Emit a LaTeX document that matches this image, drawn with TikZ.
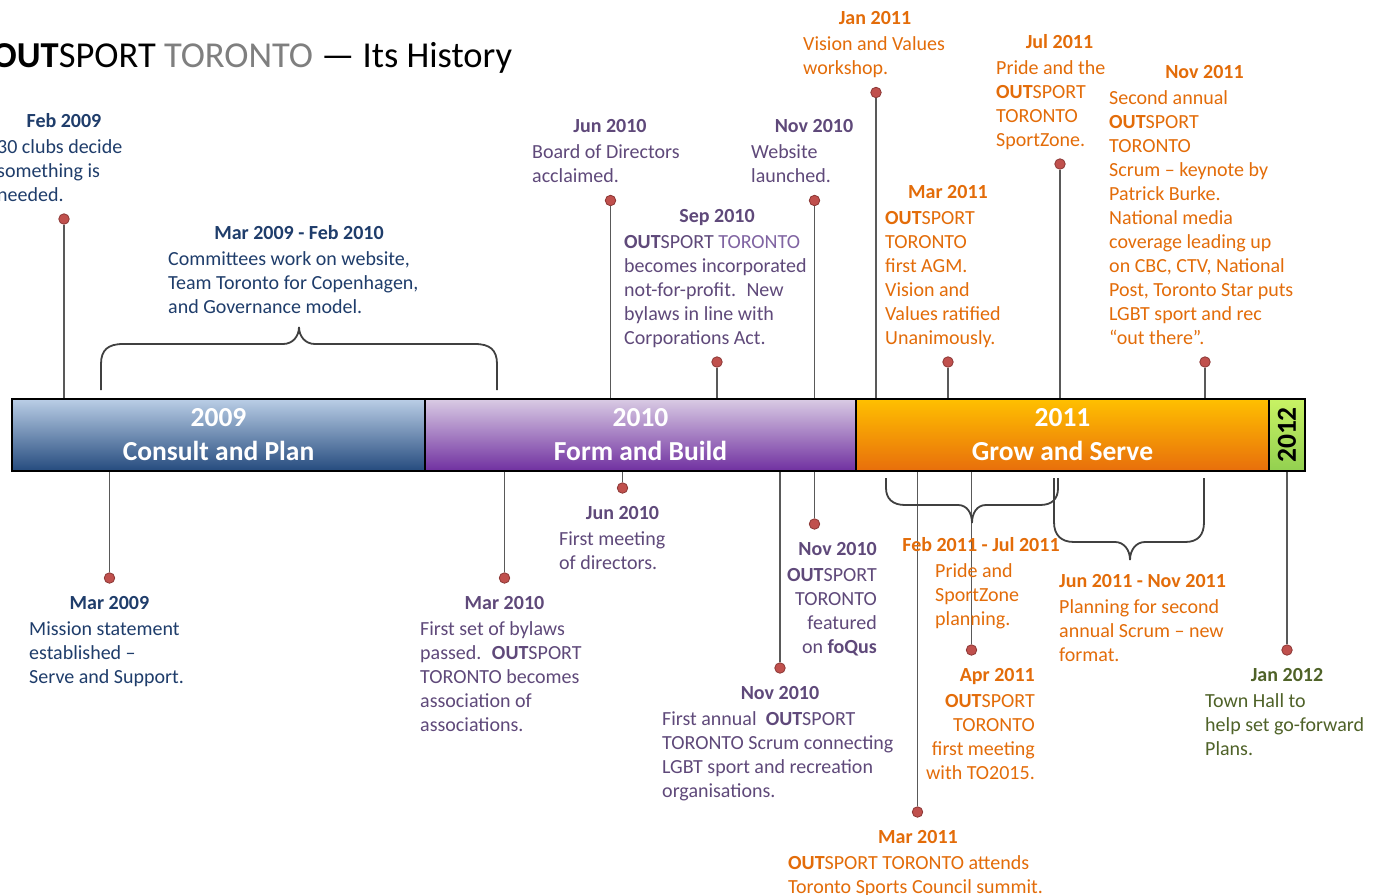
\documentclass[tikz,border=0pt]{standalone}
\usepackage{fontspec}
\setmainfont{Carlito}

\definecolor{c09}{HTML}{1F3D6B}
\definecolor{c10}{HTML}{5F497A}
\definecolor{c10lt}{HTML}{8064A2}
\definecolor{c11}{HTML}{E36C09}
\definecolor{c12}{HTML}{4F6228}
\definecolor{headgray}{HTML}{7F7F7F}
\definecolor{bar09a}{HTML}{BACEE6}
\definecolor{bar09b}{HTML}{254B7E}
\definecolor{bar10a}{HTML}{D9CBE4}
\definecolor{bar10b}{HTML}{7030A0}
\definecolor{bar11a}{HTML}{FFC000}
\definecolor{bar11b}{HTML}{E86E0C}
\definecolor{bar12a}{HTML}{C8F264}
\definecolor{bar12b}{HTML}{92D050}
\definecolor{stemgray}{HTML}{595959}
\definecolor{dotred}{HTML}{C0504D}
\definecolor{dotedge}{HTML}{8C3836}
\definecolor{bracegray}{HTML}{404040}

\newcommand{\OS}{\textbf{OUT}SPORT}

\begin{document}
\begin{tikzpicture}[x=1pt, y=-1pt,
    yearbar/.style={draw=black, line width=1.5pt, minimum height=72pt, inner sep=0pt, align=center, text=white, font=\fontsize{27.5}{34}\selectfont\bfseries},
    when/.style={anchor=base, inner sep=0pt, font=\fontsize{20}{24}\selectfont\bfseries},
    what/.style={anchor=north west, inner sep=0pt, align=left, font=\fontsize{20}{24}\selectfont},
    whatr/.style={what, anchor=north east, align=right},
    evdot/.style={circle, fill=dotred, draw=dotedge, line width=0.8pt, minimum size=10.5pt, inner sep=0pt},
    stem/.style={draw=stemgray, line width=1.5pt},
    curly/.style={draw=bracegray, line width=1.8pt},
]
\path[use as bounding box, fill=white] (0,0) rectangle (1380,894);

% title
\node[anchor=base west, inner sep=0pt, font=\fontsize{36.5}{40}\selectfont] (head) at (-8,67) {\textbf{OUT}SPORT \textcolor{headgray}{TORONTO} — Its History};

% the years
\node[yearbar, top color=bar09a, bottom color=bar09b, minimum width=413pt] (y2009) at (218.5,435) {2009\\Consult and Plan};
\node[yearbar, top color=bar10a, bottom color=bar10b, minimum width=431pt] (y2010) at (640.5,435) {2010\\Form and Build};
\node[yearbar, top color=bar11a, bottom color=bar11b, minimum width=413pt] (y2011) at (1062.5,435) {2011\\Grow and Serve};
\node[yearbar, top color=bar12a, bottom color=bar12b, minimum width=36pt, text=black] (y2012) at (1287,435) {\rotatebox{90}{2012}};

% dots
\node[evdot] (feb09d) at (64,219) {};
\node[evdot] (jun10d) at (610.5,200.5) {};
\node[evdot] (sep10d) at (717,362) {};
\node[evdot] (nov10d) at (814.5,200.5) {};
\node[evdot] (jan11d) at (876,92.5) {};
\node[evdot] (mar11d) at (948,362) {};
\node[evdot] (jul11d) at (1060,164) {};
\node[evdot] (nov11d) at (1205,362) {};
\node[evdot] (mar09d) at (109.5,578) {};
\node[evdot] (mar10d) at (504.5,578) {};
\node[evdot] (jun10bd) at (622.5,488) {};
\node[evdot] (nov10md) at (814.5,524) {};
\node[evdot] (nov10bd) at (780,668) {};
\node[evdot] (mar11bd) at (917.5,812) {};
\node[evdot] (apr11d) at (971.5,650) {};
\node[evdot] (jan12d) at (1287,650) {};

% stems
\draw[stem] (feb09d) -- (feb09d |- y2009.north);
\draw[stem] (jun10d) -- (jun10d |- y2010.north);
\draw[stem] (sep10d) -- (sep10d |- y2010.north);
\draw[stem] (nov10d) -- (nov10d |- y2010.north);
\draw[stem] (jan11d) -- (jan11d |- y2011.north);
\draw[stem] (mar11d) -- (mar11d |- y2011.north);
\draw[stem] (jul11d) -- (jul11d |- y2011.north);
\draw[stem] (nov11d) -- (nov11d |- y2011.north);
\draw[stem] (mar09d) -- (mar09d |- y2009.south);
\draw[stem] (mar10d) -- (mar10d |- y2010.south);
\draw[stem] (jun10bd) -- (jun10bd |- y2010.south);
\draw[stem] (nov10md) -- (nov10md |- y2010.south);
\draw[stem] (nov10bd) -- (nov10bd |- y2010.south);
\draw[stem] (mar11bd) -- (mar11bd |- y2011.south);
\draw[stem] (apr11d) -- (apr11d |- y2011.south);
\draw[stem] (jan12d) -- (jan12d |- y2012.south);

% braces
\draw[curly] (101,390) -- (101,364) .. controls (101,350) and (108,344) .. (123,344) -- (283,344) .. controls (293,344) and (299,336) .. (299,327) .. controls (299,336) and (305,344) .. (315,344) -- (475,344) .. controls (490,344) and (497,350) .. (497,364) -- (497,390);
\draw[curly] (886,478) -- (886,488) .. controls (886,499) and (893,505) .. (905,505) -- (958,505) .. controls (967,505) and (972,513) .. (972,523) .. controls (972,513) and (977,505) .. (986,505) -- (1040,505) .. controls (1052,505) and (1058,499) .. (1058,488) -- (1058,478);
\draw[curly] (1054,478) -- (1054,522) .. controls (1054,535) and (1061,542) .. (1074,542) -- (1115,542) .. controls (1124,542) and (1130,550) .. (1130,560) .. controls (1130,550) and (1136,542) .. (1145,542) -- (1185,542) .. controls (1198,542) and (1204,535) .. (1204,522) -- (1204,478);

% 2009
\node[when, text=c09] (feb09t) at (64,127) {Feb 2009};
\node[what, text=c09] (feb09) at (-3,136.2) {\strut 30 clubs decide\\something is\\needed.};
\node[when, text=c09] (mar09feb10t) at (299,239) {Mar 2009 - Feb 2010};
\node[what, text=c09] (mar09feb10) at (168,248.2) {\strut Committees work on website,\\Team Toronto for Copenhagen,\\and Governance model.};
\node[when, text=c09] (mar09t) at (109.5,609) {Mar 2009};
\node[what, text=c09] (mar09) at (29,618.2) {\strut Mission statement\\established –\\Serve and Support.};

% 2010
\node[when, text=c10] (jun10t) at (610,132) {Jun 2010};
\node[what, text=c10] (jun10) at (532,141.2) {\strut Board of Directors\\acclaimed.};
\node[when, text=c10] (sep10t) at (717,222) {Sep 2010};
\node[what, text=c10] (sep10) at (624,231.2) {\strut\OS\ \textcolor{c10lt}{TORONTO}\\becomes incorporated\\not-for-profit.~ New\\bylaws in line with\\Corporations Act.};
\node[when, text=c10] (nov10t) at (814,132) {Nov 2010};
\node[what, text=c10] (nov10) at (751,141.2) {\strut Website\\launched.};
\node[when, text=c10] (mar10t) at (504.5,609) {Mar 2010};
\node[what, text=c10] (mar10) at (420,618.2) {\strut First set of bylaws\\passed.~ \OS\\TORONTO becomes\\association of\\associations.};
\node[when, text=c10] (jun10bt) at (622.5,519) {Jun 2010};
\node[what, text=c10] (jun10b) at (559,528.2) {\strut First meeting\\of directors.};
\node[when, text=c10, anchor=base east] (nov10mt) at (877,555) {Nov 2010};
\node[whatr, text=c10] (nov10m) at (877,564.2) {\strut\OS\\TORONTO\\featured\\on \textbf{foQus}};
\node[when, text=c10] (nov10bt) at (780,699) {Nov 2010};
\node[what, text=c10] (nov10b) at (662,708.2) {\strut First annual~ \OS\\TORONTO Scrum connecting\\LGBT sport and recreation\\organisations.};

% 2011
\node[when, text=c11] (jan11t) at (875,24) {Jan 2011};
\node[what, text=c11] (jan11) at (803,33.2) {\strut Vision and Values\\workshop.};
\node[when, text=c11] (mar11t) at (948,198) {Mar 2011};
\node[what, text=c11] (mar11) at (885,207.2) {\strut\OS\\TORONTO\\first AGM.\\Vision and\\Values ratified\\Unanimously.};
\node[when, text=c11] (jul11t) at (1059.5,48) {Jul 2011};
\node[what, text=c11] (jul11) at (996,57.2) {\strut Pride and the\\\OS\\TORONTO\\SportZone.};
\node[when, text=c11] (nov11t) at (1204.5,78) {Nov 2011};
\node[what, text=c11] (nov11) at (1109,87.2) {\strut Second annual\\\OS\\TORONTO\\Scrum – keynote by\\Patrick Burke.\\National media\\coverage leading up\\on CBC, CTV, National\\Post, Toronto Star puts\\LGBT sport and rec\\“out there”.};
\node[when, text=c11] (feb11jul11t) at (981,551) {Feb 2011 - Jul 2011};
\node[what, text=c11] (feb11jul11) at (935,560.2) {\strut Pride and\\SportZone\\planning.};
\node[when, text=c11, anchor=base west] (jun11nov11t) at (1059,587) {Jun 2011 - Nov 2011};
\node[what, text=c11] (jun11nov11) at (1059,596.2) {\strut Planning for second\\annual Scrum – new\\format.};
\node[when, text=c11, anchor=base east] (apr11t) at (1035,681) {Apr 2011};
\node[whatr, text=c11] (apr11) at (1035,690.2) {\strut\OS\\TORONTO\\first meeting\\with TO2015.};
\node[when, text=c11] (mar11bt) at (918,843) {Mar 2011};
\node[what, text=c11] (mar11b) at (788,852.2) {\strut\OS\ TORONTO attends\\Toronto Sports Council summit.};

% 2012
\node[when, text=c12] (jan12t) at (1287,681) {Jan 2012};
\node[what, text=c12] (jan12) at (1205,690.2) {\strut Town Hall to\\help set go-forward\\Plans.};
\end{tikzpicture}
\end{document}
